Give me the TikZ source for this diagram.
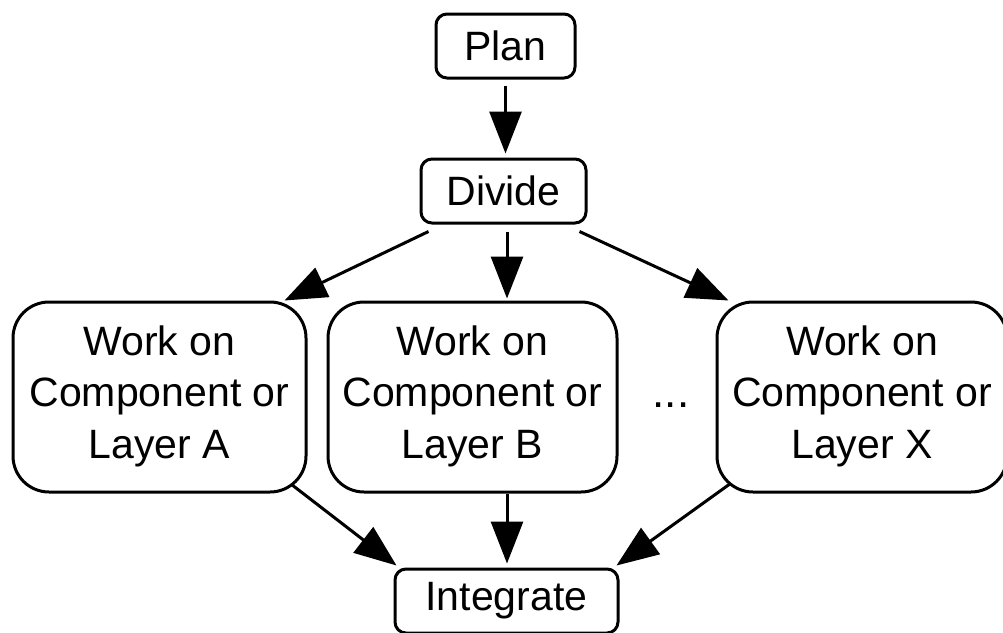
\documentclass[tikz,border=0pt]{standalone}
\usepackage{fontspec}
\setmainfont{Liberation Sans}
\usetikzlibrary{arrows.meta,positioning,calc}

\begin{document}
\begin{tikzpicture}[x=1pt,y=-1pt]
  \tikzstyle{step box}=[rectangle, draw, line width=3pt, rounded corners=11pt, minimum height=64pt, inner sep=0pt, font=\fontsize{41}{51.5}\selectfont]
  \tikzstyle{work box}=[step box, rounded corners=36pt, minimum width=290pt, minimum height=190pt, align=center, text depth=10pt]
  \tikzstyle{flow}=[line width=3pt, -{Triangle[length=42pt,width=32pt]}]

  \clip (0,0) rectangle (1003,632);
  \fill[white] (0,0) rectangle (1003,632);

  % Plan / Divide
  \node[step box, minimum width=139pt] (plan) at (505.5,46) {Plan};
  \node[step box, minimum width=165pt] (divide) at (503.5,191) {Divide};

  % Componentes
  \node[work box, minimum width=293pt] (workA) at (159.5,397) {Work on\\Component or\\Layer A};
  \node[work box, minimum width=289pt] (workB) at (472.5,397) {Work on\\Component or\\Layer B};
  \node[work box] (workX) at (862,397) {Work on\\Component or\\Layer X};
  \node[font=\fontsize{44}{48}\selectfont] (dots) at (671,405) {...};

  % Integrate
  \node[step box, minimum width=223pt] (integrate) at (506.5,601) {Integrate};

  % Conexiones
  \draw[flow] ([yshift=-6pt]plan.south) -- ([yshift=4pt]plan.south |- divide.north);
  \draw[flow] ([xshift=9pt,yshift=-7pt]divide.south west) -- ([xshift=-23pt]workA.north east);
  \draw[flow] ([xshift=3.5pt,yshift=-7pt]divide.south) -- ([xshift=34.5pt,yshift=2pt]workB.north);
  \draw[flow] ([xshift=-8pt,yshift=-7pt]divide.south east) -- ([xshift=13pt]workX.north west);
  \draw[flow] ([xshift=-16pt,yshift=9pt]workA.south east) -- ([xshift=3pt,yshift=2pt]integrate.north west);
  \draw[flow] ([xshift=34.5pt]workB.south) -- ([xshift=0.5pt,yshift=4pt]integrate.north);
  \draw[flow] ([xshift=15pt,yshift=10pt]workX.south west) -- ([xshift=-3pt,yshift=2pt]integrate.north east);
\end{tikzpicture}
\end{document}
